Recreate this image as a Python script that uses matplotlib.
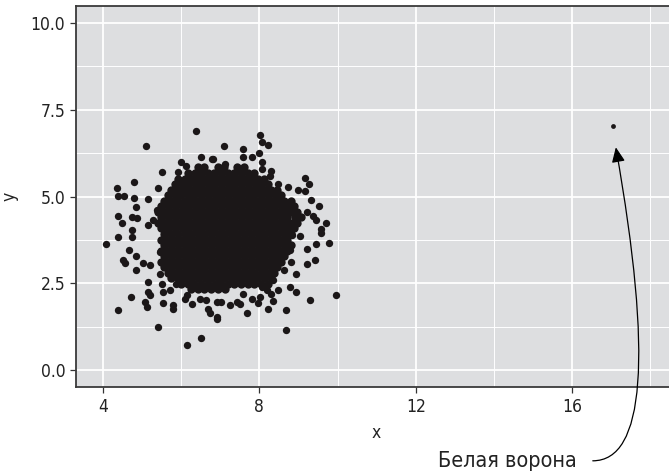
import matplotlib
matplotlib.use("Agg")
import matplotlib.pyplot as plt

plt.rcParams["font.family"] = ["Liberation Sans Narrow", "DejaVu Sans"]
plt.rcParams["font.stretch"] = "condensed"

# scattered points around the cloud
outer_x = [6.37, 5.09, 5.99, 6.12, 6.52, 6.78, 5.50, 5.93, 4.79, 5.41, 4.35, 4.39, 4.54,
           4.80, 5.16, 4.84, 4.39, 4.48, 4.73, 4.86, 5.28, 5.15, 4.73, 4.39, 4.73, 5.37,
           8.02, 8.06, 8.23, 7.10, 7.59, 7.59, 7.80, 8.00, 8.06, 8.06, 8.31, 8.27, 9.17,
           9.28, 8.48, 8.74, 9.00, 9.17, 8.23, 9.33, 9.53, 9.21, 9.38, 9.46, 9.70, 9.59,
           6.81, 7.12, 4.09, 4.67, 4.84, 4.52, 4.56, 4.84, 5.03, 5.20, 5.16, 5.46, 5.50,
           5.46, 5.50, 5.16, 5.20, 4.72, 5.07, 5.12, 4.39, 5.54, 5.80, 5.80, 6.10, 6.14,
           6.27, 6.48, 6.63, 5.41, 6.52, 6.16, 6.69, 6.74, 6.91, 6.91, 5.93, 5.88, 5.54,
           5.71, 9.59, 9.79, 9.45, 9.21, 8.83, 9.04, 8.78, 8.80, 9.21, 9.42, 8.94, 8.63,
           8.78, 8.94, 8.36, 8.48, 8.31, 9.29, 9.95, 8.68, 8.34, 8.23, 7.97, 7.68, 8.68,
           7.50, 7.42, 7.25, 7.03, 6.91, 8.06, 8.19, 8.02, 7.80, 7.59]
outer_y = [6.90, 6.45, 6.01, 5.89, 6.15, 6.08, 5.70, 5.70, 5.43, 5.25, 5.25, 5.03, 5.03,
           4.96, 4.93, 4.69, 4.45, 4.23, 4.40, 4.37, 4.31, 4.17, 4.04, 3.83, 3.83, 4.60,
           6.78, 6.56, 6.49, 6.45, 6.37, 6.13, 6.15, 6.26, 5.99, 5.79, 5.75, 5.60, 5.54,
           5.36, 5.36, 5.27, 5.20, 5.17, 5.17, 4.89, 4.74, 4.55, 4.45, 4.31, 4.23, 4.07,
           6.09, 5.94, 3.62, 3.45, 3.30, 3.16, 3.07, 2.89, 3.09, 3.03, 2.54, 3.40, 3.11,
           2.78, 2.49, 2.25, 2.16, 2.11, 1.96, 1.82, 1.74, 1.93, 1.87, 1.77, 2.06, 2.16,
           1.90, 2.06, 2.01, 1.23, 0.91, 0.72, 1.77, 1.63, 1.48, 1.96, 2.73, 2.49, 2.25,
           2.30, 3.95, 3.66, 3.62, 3.50, 3.88, 3.85, 3.45, 3.11, 3.06, 3.16, 2.78, 2.89,
           2.39, 2.25, 2.59, 2.30, 2.20, 2.01, 2.16, 1.74, 1.99, 1.77, 1.93, 1.65, 1.15,
           1.90, 1.96, 1.87, 1.96, 1.54, 2.39, 2.30, 2.11, 2.06, 2.20]

# dense core of the cloud, one list of x per row of y
core_y = [2.32, 2.48, 2.64, 2.80, 2.96, 3.12, 3.28, 3.44, 3.60, 3.76, 3.92, 4.08,
          4.24, 4.40, 4.56, 4.72, 4.88, 5.04, 5.20, 5.36, 5.52, 5.68, 5.84]
core_x = [
    [6.25, 6.43, 6.58, 6.77, 6.93, 7.11],
    [6.00, 6.18, 6.34, 6.52, 6.68, 6.86, 7.02, 7.20, 7.36, 7.53, 7.71, 7.87, 8.05, 8.21],
    [5.74, 5.92, 6.08, 6.26, 6.42, 6.60, 6.76, 6.94, 7.10, 7.27, 7.45, 7.61, 7.79, 7.95, 8.13, 8.29],
    [5.66, 5.84, 6.00, 6.18, 6.34, 6.52, 6.68, 6.86, 7.02, 7.19, 7.37, 7.53, 7.71, 7.87, 8.05, 8.21, 8.38],
    [5.57, 5.75, 5.91, 6.09, 6.25, 6.43, 6.59, 6.77, 6.93, 7.10, 7.28, 7.44, 7.62, 7.78, 7.96, 8.12, 8.30, 8.46],
    [5.49, 5.67, 5.83, 6.01, 6.17, 6.35, 6.51, 6.69, 6.85, 7.02, 7.20, 7.36, 7.54, 7.70, 7.88, 8.04, 8.22, 8.38, 8.55],
    [5.57, 5.75, 5.91, 6.09, 6.25, 6.43, 6.59, 6.77, 6.93, 7.10, 7.28, 7.44, 7.62, 7.78, 7.96, 8.12, 8.30, 8.46, 8.63],
    [5.49, 5.67, 5.83, 6.01, 6.17, 6.35, 6.51, 6.69, 6.85, 7.02, 7.20, 7.36, 7.54, 7.70, 7.88, 8.04, 8.22, 8.38, 8.56, 8.72],
    [5.57, 5.75, 5.91, 6.09, 6.25, 6.43, 6.59, 6.77, 6.93, 7.10, 7.28, 7.44, 7.62, 7.78, 7.96, 8.12, 8.30, 8.46, 8.64, 8.80],
    [5.49, 5.67, 5.83, 6.01, 6.17, 6.35, 6.51, 6.69, 6.85, 7.02, 7.20, 7.36, 7.54, 7.70, 7.88, 8.04, 8.22, 8.38, 8.56, 8.72],
    [5.57, 5.75, 5.91, 6.09, 6.25, 6.43, 6.59, 6.77, 6.93, 7.10, 7.28, 7.44, 7.62, 7.78, 7.96, 8.12, 8.30, 8.46, 8.64, 8.80],
    [5.49, 5.67, 5.83, 6.01, 6.17, 6.35, 6.51, 6.69, 6.85, 7.02, 7.20, 7.36, 7.54, 7.70, 7.88, 8.04, 8.22, 8.38, 8.56, 8.72, 8.89],
    [5.40, 5.58, 5.74, 5.92, 6.08, 6.26, 6.42, 6.60, 6.76, 6.93, 7.11, 7.27, 7.45, 7.61, 7.79, 7.95, 8.13, 8.29, 8.47, 8.63, 8.81, 8.97],
    [5.49, 5.67, 5.83, 6.01, 6.17, 6.35, 6.51, 6.69, 6.85, 7.02, 7.20, 7.36, 7.54, 7.70, 7.88, 8.04, 8.22, 8.38, 8.56, 8.72, 8.90, 9.06],
    [5.40, 5.58, 5.74, 5.92, 6.08, 6.26, 6.42, 6.60, 6.76, 6.93, 7.11, 7.27, 7.45, 7.61, 7.79, 7.95, 8.13, 8.29, 8.47, 8.63, 8.81, 8.97],
    [5.49, 5.67, 5.83, 6.01, 6.17, 6.35, 6.51, 6.69, 6.85, 7.02, 7.20, 7.36, 7.54, 7.70, 7.88, 8.04, 8.22, 8.38, 8.56, 8.72, 8.89],
    [5.57, 5.75, 5.91, 6.09, 6.25, 6.43, 6.59, 6.77, 6.93, 7.10, 7.28, 7.44, 7.62, 7.78, 7.96, 8.12, 8.30, 8.46, 8.64, 8.80],
    [5.66, 5.84, 6.00, 6.18, 6.34, 6.52, 6.68, 6.86, 7.02, 7.19, 7.37, 7.53, 7.71, 7.87, 8.05, 8.21, 8.39, 8.55],
    [5.74, 5.92, 6.08, 6.26, 6.42, 6.60, 6.76, 6.94, 7.10, 7.27, 7.45, 7.61, 7.79, 7.95, 8.13, 8.29, 8.46],
    [5.83, 6.01, 6.17, 6.35, 6.51, 6.69, 6.85, 7.02, 7.20, 7.36, 7.54, 7.70, 7.88, 8.04, 8.21],
    [5.91, 6.09, 6.25, 6.43, 6.59, 6.77, 6.93, 7.10, 7.28, 7.44, 7.62, 7.78, 7.96, 8.12],
    [6.17, 6.35, 6.51, 6.69, 6.85, 7.02, 7.20, 7.36, 7.54, 7.70, 7.87],
    [6.42, 6.59, 6.93, 7.10, 7.44, 7.61],
]

# the lone point
crow_x = [17.04]
crow_y = [7.04]
crow_label = "Белая ворона"

x_ticks = [4, 8, 12, 16]
y_ticks = [0.0, 2.5, 5.0, 7.5, 10.0]
y_tick_labels = ["0.0", "2.5", "5.0", "7.5", "10.0"]

core_xs = []
core_ys = []
for yv, row in zip(core_y, core_x):
    core_xs += row
    core_ys += [yv] * len(row)

fig = plt.figure(figsize=(6.69, 4.74), dpi=100)
ax = fig.add_axes([75.6 / 669, 1 - 387.3 / 474, 602 / 669, 381.5 / 474])
ax.set_facecolor("#DDDEE0")

ax.set_xlim(3.3, 18.7)
ax.set_ylim(-0.5, 10.5)
ax.set_xticks(x_ticks)
ax.set_yticks(y_ticks)
ax.set_yticklabels(y_tick_labels)
ax.set_xticks([6, 10, 14, 18], minor=True)
ax.set_yticks([1.25, 3.75, 6.25, 8.75], minor=True)
ax.grid(which="major", color="white", linewidth=1.3)
ax.grid(which="minor", color="white", linewidth=0.7)
ax.set_axisbelow(True)
ax.tick_params(which="major", length=4.5, width=0.9, color="#333333",
               labelsize=12.5, labelcolor="#222222", pad=3)
ax.tick_params(which="minor", length=0)
for s in ax.spines.values():
    s.set_color("#3a3a3a")
    s.set_linewidth(1.3)

ax.scatter(core_xs, core_ys, s=36, color="#1b1718", linewidths=0, zorder=3)
ax.scatter(outer_x, outer_y, s=28, color="#1b1718", linewidths=0, zorder=3)
ax.scatter(crow_x, crow_y, s=12, color="#1b1718", linewidths=0, zorder=3)

ax.set_xlabel("x", fontsize=12.5, color="#222222", labelpad=6)
ax.set_ylabel("y", fontsize=12.5, color="#222222")
ax.yaxis.set_label_coords(-0.094, 0.5)

ax.text(16.12, -2.80, crow_label, fontsize=15.5, color="#222222",
        ha="right", va="baseline", clip_on=False)
ax.annotate("", xy=(17.12, 6.42), xytext=(16.53, -2.62),
            annotation_clip=False,
            arrowprops=dict(arrowstyle="-|>,head_length=0.9,head_width=0.4",
                            connectionstyle="angle3,angleA=0,angleB=100",
                            color="black", lw=0.9, shrinkA=0, shrinkB=0))

fig.savefig("out.png", dpi=100)
